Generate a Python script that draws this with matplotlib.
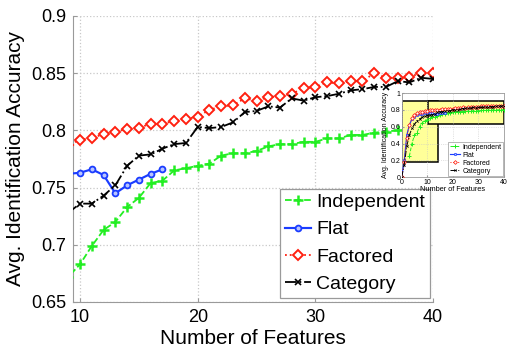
import numpy as np
import matplotlib
matplotlib.use("Agg")
import matplotlib.pyplot as plt
from matplotlib.patches import Rectangle

plt.rcParams['font.family'] = ['Liberation Sans', 'DejaVu Sans']

# ---- data ----
features = list(range(0, 41))
independent = [np.nan, np.nan, np.nan, 0.25, 0.40, 0.50, 0.53, 0.60, 0.645, 0.672,
               0.683, 0.699, 0.713, 0.720, 0.733, 0.741, 0.754, 0.756, 0.765, 0.767,
               0.769, 0.771, 0.778, 0.780, 0.780, 0.782, 0.786, 0.788, 0.788, 0.790,
               0.790, 0.793, 0.793, 0.796, 0.796, 0.798, 0.799, 0.800, 0.800, 0.801, 0.802]
flat_x = list(range(0, 18))
flat = [0.0, 0.20, 0.50, 0.62, 0.69, 0.72, 0.74, 0.75, 0.755, 0.762,
        0.763, 0.766, 0.761, 0.745, 0.752, 0.757, 0.762, 0.766]
factored = [0.0, 0.18, 0.47, 0.62, 0.70, 0.74, 0.76, 0.775, 0.780, 0.787,
            0.792, 0.793, 0.797, 0.799, 0.801, 0.802, 0.806, 0.806, 0.808, 0.810,
            0.812, 0.818, 0.821, 0.822, 0.828, 0.826, 0.829, 0.830, 0.832, 0.837,
            0.838, 0.842, 0.841, 0.843, 0.843, 0.850, 0.846, 0.846, 0.847, 0.850, 0.850]
category = [0.0, 0.15, 0.37, 0.50, 0.58, 0.63, 0.67, 0.69, 0.71, 0.728,
            0.736, 0.736, 0.743, 0.752, 0.769, 0.778, 0.779, 0.784, 0.788, 0.789,
            0.803, 0.802, 0.803, 0.807, 0.816, 0.817, 0.821, 0.820, 0.828, 0.826,
            0.829, 0.830, 0.832, 0.835, 0.836, 0.838, 0.838, 0.843, 0.842, 0.846, 0.845]
labels = ['Independent', 'Flat', 'Factored', 'Category']
xticks_main = [10, 20, 30, 40]
yticks_main = [0.65, 0.7, 0.75, 0.8, 0.85, 0.9]
ytick_labels_main = ['0.65', '0.7', '0.75', '0.8', '0.85', '0.9']
xticks_inset = [0, 10, 20, 30, 40]
yticks_inset = [0, 0.2, 0.4, 0.6, 0.8, 1.0]
ytick_labels_inset = ['0', '0.2', '0.4', '0.6', '0.8', '1']

GREEN = '#22ee22'
BLUE = '#1a3cff'
RED = '#ff2010'
BLACK = '#000000'
GRID = '#c8c8c8'
SPINE = '#9a9a9a'

fig = plt.figure(figsize=(5.1, 3.55), dpi=100)
ax = fig.add_axes([73/510, 53/355, 360/510, 286/355])


def draw(a, ms_scale=1.0, lw=1.3):
    a.plot(features, independent, color=GREEN, linestyle='--', marker='+',
           markersize=6.5*ms_scale, markeredgewidth=1.8*ms_scale, linewidth=lw, label=labels[0], zorder=3)
    a.plot(flat_x, flat, color=BLUE, linestyle='-', marker='o', markerfacecolor='#b8c4ff',
           markeredgecolor=BLUE, markersize=4.2*ms_scale, markeredgewidth=1.3*ms_scale,
           linewidth=lw*1.2, label=labels[1], zorder=3)
    a.plot(features, factored, color=RED, linestyle=':', marker='D', markerfacecolor='white',
           markeredgecolor=RED, markersize=4.8*ms_scale, markeredgewidth=1.4*ms_scale,
           linewidth=lw, label=labels[2], zorder=3)
    a.plot(features, category, color=BLACK, linestyle='-.', marker='x',
           markersize=4.2*ms_scale, markeredgewidth=1.2*ms_scale, linewidth=lw, label=labels[3], zorder=3)


draw(ax)
ax.set_xlim(9.4, 40)
ax.set_ylim(0.65, 0.9)
ax.set_xticks(xticks_main)
ax.set_yticks(yticks_main)
ax.set_yticklabels(ytick_labels_main)
ax.tick_params(labelsize=13, direction='in', length=3, color=SPINE, pad=5)
ax.grid(True, color=GRID, linestyle=':', linewidth=0.9)
for s in ['top', 'right']:
    ax.spines[s].set_visible(False)
for s in ['left', 'bottom']:
    ax.spines[s].set_color(SPINE)
ax.set_xlabel('Number of Features', fontsize=15, labelpad=2)
ax.set_ylabel('Avg. Identification Accuracy', fontsize=15, labelpad=4)
leg = ax.legend(loc='lower right', bbox_to_anchor=(0.992, 0.014), borderaxespad=0,
                fontsize=14, handlelength=1.3, handletextpad=0.3, labelspacing=0.5,
                borderpad=0.25, fancybox=False, framealpha=1, edgecolor=SPINE)
leg.get_frame().set_linewidth(0.9)
leg.set_zorder(5)

# ---- inset ----
ins = fig.add_axes([401.7/510, (355-177.3)/355, 102/510, 84.3/355])
draw(ins, ms_scale=0.4, lw=0.7)
ins.set_xlim(0, 40)
ins.set_ylim(0, 1)
ins.set_xticks(xticks_inset)
ins.set_yticks(yticks_inset)
ins.set_yticklabels(ytick_labels_inset)
ins.tick_params(labelsize=5, direction='in', length=1.5, pad=1, color=SPINE)
ins.grid(True, color=GRID, linestyle=':', linewidth=0.5)
for s in ins.spines.values():
    s.set_color(SPINE)
    s.set_linewidth(0.6)
ins.set_xlabel('Number of Features', fontsize=5.3, labelpad=0.5)
ins.set_ylabel('Avg. Identification Accuracy', fontsize=5, labelpad=1)
ins.add_patch(Rectangle((0, 0.18), 14.2, 0.725, facecolor='#ffff99', edgecolor='black',
                        linewidth=1.1, zorder=1))
ins.add_patch(Rectangle((10.5, 0.635), 29.5, 0.27, facecolor='#ffff99', edgecolor='black',
                        linewidth=1.1, zorder=1))
ileg = ins.legend(loc='lower right', fontsize=5, handlelength=1.5, handletextpad=0.3,
                  labelspacing=0.15, borderpad=0.2, borderaxespad=0.15, fancybox=False,
                  framealpha=1, edgecolor=SPINE)
ileg.get_frame().set_linewidth(0.5)

fig.savefig('out.png', dpi=100)
